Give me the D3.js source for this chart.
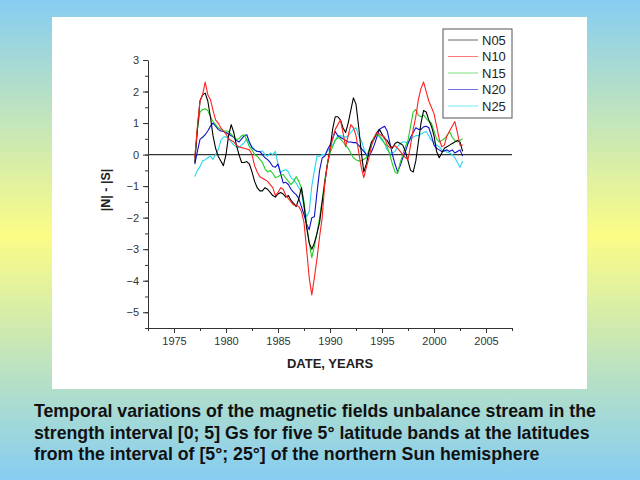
<!DOCTYPE html>
<html><head><meta charset="utf-8">
<script src="https://cdn.jsdelivr.net/npm/d3@7/dist/d3.min.js"></script>
<style>html,body{margin:0;padding:0;overflow:hidden}</style>
</head><body>
<script>
// ---- data (quarter-year samples, 1977.00 .. 2002.75) ----
const startYear = 1977, stepYear = 0.25;
const seriesNames = ["N05","N10","N15","N20","N25"];
const seriesColors = ["#000000","#ff2020","#22cc22","#1010c8","#20d8f0"];
const N05 = [
-0.25,0.8,1.7,1.9, 1.95,1.7,1.2,0.6, 0.2,-0.05,-0.2,-0.35, 0.0,0.6,0.95,0.7,
0.3,0.0,-0.25,-0.25, -0.22,-0.3,-0.55,-0.85, -1.05,-1.15,-1.15,-1.05, -1.1,-1.2,-1.3,-1.35,
-1.25,-1.2,-1.25,-1.35, -1.3,-1.45,-1.55,-1.65, -1.4,-1.05,-1.6,-2.3, -2.8,-3.0,-2.8,-2.5,
-2.15,-1.5,-0.9,-0.3, 0.15,0.8,1.2,1.2, 1.1,0.85,0.7,1.0, 1.4,1.8,1.6,0.9,
0.1,-0.55,-0.3,0.1, 0.4,0.5,0.7,0.8, 0.65,0.5,0.45,0.3, 0.2,0.35,0.4,0.35,
0.3,0.1,-0.2,-0.5, -0.55,-0.2,0.4,1.0, 1.4,1.35,1.1,0.9, 0.6,0.1,-0.1,0.05,
0.2,0.25,0.3,0.35, 0.4,0.45,0.4,0.1];
const N10 = [
-0.1,0.9,1.7,1.9, 2.3,1.9,1.75,1.4, 1.1,1.0,0.85,0.75, 0.65,0.5,0.45,0.4,
0.3,0.25,0.22,0.2, 0.18,0.15,0.0,-0.35, -0.55,-0.7,-0.75,-0.8, -0.85,-0.95,-1.05,-1.3,
-1.2,-1.05,-1.1,-1.3, -1.4,-1.5,-1.6,-1.6, -1.65,-1.8,-2.15,-3.0, -3.9,-4.45,-3.9,-3.3,
-2.6,-2.0,-0.9,-0.3, 0.15,0.5,0.8,0.95, 1.1,0.7,0.25,0.6, 0.95,0.85,0.6,0.1,
-0.4,-0.73,-0.4,-0.1, 0.3,0.55,0.7,0.65, 0.6,0.55,0.3,0.22, 0.25,0.28,0.2,0.1,
0.0,-0.1,-0.16,0.3, 0.8,1.2,1.75,2.1, 2.3,2.0,1.7,1.5, 1.3,0.9,0.5,0.25,
0.3,0.6,0.75,0.9, 1.05,0.7,0.3,0.3];
const N15 = [
-0.1,0.8,1.35,1.43, 1.45,1.4,1.2,1.05, 0.95,0.85,0.8,0.75, 0.75,0.73,0.65,0.55,
0.48,0.5,0.6,0.63, 0.45,0.25,0.15,0.0, -0.05,-0.15,-0.25,-0.45, -0.55,-0.5,-0.6,-0.73,
-0.7,-0.65,-0.63,-0.75, -0.85,-0.95,-0.85,-0.7, -0.85,-1.05,-1.5,-2.2, -2.8,-3.27,-2.9,-2.5,
-2.0,-1.45,-0.8,-0.3, 0.05,0.25,0.45,0.54, 0.5,0.4,0.3,0.2, 0.05,-0.1,-0.16,-0.2,
-0.2,-0.15,-0.1,0.15, 0.4,0.55,0.63,0.6, 0.5,0.35,0.25,0.0, -0.3,-0.55,-0.6,-0.25,
0.0,0.25,0.45,0.9, 1.35,1.43,1.25,1.2, 1.25,1.15,1.05,1.0, 0.75,0.5,0.4,0.45,
0.5,0.6,0.73,0.55, 0.45,0.4,0.45,0.5];
const N20 = [
-0.3,0.1,0.48,0.55, 0.63,0.75,0.9,1.0, 0.9,0.8,0.75,0.73, 0.7,0.65,0.6,0.54,
0.45,0.4,0.5,0.6, 0.63,0.4,0.22,0.15, 0.1,0.1,0.0,-0.1, -0.16,-0.25,-0.38,-0.4,
-0.3,-0.6,-0.9,-0.88, -0.95,-1.1,-1.2,-1.27, -1.4,-1.65,-1.9,-2.2, -2.38,-2.0,-1.97,-1.2,
-0.5,-0.1,-0.05,0.15, 0.3,0.5,0.73,0.6, 0.55,0.5,0.45,0.4, 0.4,0.38,0.38,0.3,
0.2,0.1,0.0,-0.05, 0.1,0.3,0.55,0.8, 0.85,0.9,0.75,0.38, 0.0,-0.3,-0.54,-0.35,
-0.1,0.1,0.35,0.55, 0.7,0.85,0.8,0.8, 0.88,0.9,0.85,0.6, 0.3,0.2,0.15,0.1,
0.12,0.15,0.1,0.15, 0.05,0.1,0.15,-0.05];
const N25 = [
-0.7,-0.5,-0.38,-0.2, -0.16,-0.1,-0.05,-0.15, 0.0,0.15,0.45,0.55, 0.57,0.5,0.4,0.3,
0.25,0.22,0.3,0.38, 0.5,0.35,0.25,0.15, 0.1,0.08,0.12,0.0, -0.05,0.05,0.0,0.1,
-0.3,-0.57,-0.5,-0.48, -0.55,-0.73,-0.8,-0.9, -1.05,-1.2,-1.68,-1.97, -1.8,-1.0,-0.5,-0.05,
-0.05,0.0,0.0,0.1, 0.2,0.3,0.45,0.6, 0.6,0.58,0.55,0.6, 0.7,0.8,0.85,0.6,
0.45,0.2,-0.05,0.1, 0.3,0.5,0.7,0.55, 0.45,0.35,0.15,0.05, 0.05,0.1,0.25,0.35,
0.4,0.4,0.35,0.5, 0.55,0.6,0.6,0.65, 0.7,0.73,0.6,0.45, 0.4,0.3,0.25,0.15,
0.1,0.08,0.05,0.0, -0.1,-0.25,-0.4,-0.2];
const seriesValues = [N05,N10,N15,N20,N25];
const xMajorTicks = [1975,1980,1985,1990,1995,2000,2005];
const yMajorTicks = [-5,-4,-3,-2,-1,0,1,2,3];
const xLabel = "DATE, YEARS";
const yLabel = "|N| - |S|";
const captionLines = [
 "Temporal variations of the magnetic fields unbalance stream in the",
 "strength interval [0; 5] Gs for five 5° latitude bands at the latitudes",
 "from the interval of [5°; 25°] of the northern Sun hemisphere"];

// ---- drawing ----
const W = 640, H = 480;
const svg = d3.select("body").append("svg").attr("width", W).attr("height", H);
const defs = svg.append("defs");
const grad = defs.append("linearGradient").attr("id","bg").attr("x1",0).attr("y1",0).attr("x2",0).attr("y2",1);
grad.append("stop").attr("offset","0%").attr("stop-color","#86cdf2");
grad.append("stop").attr("offset","49%").attr("stop-color","#fcfc86");
grad.append("stop").attr("offset","100%").attr("stop-color","#86cdf2");
svg.append("rect").attr("width",W).attr("height",H).attr("fill","url(#bg)");
svg.append("rect").attr("x",52).attr("y",17).attr("width",535).attr("height",372).attr("fill","#fff");

const x = d3.scaleLinear().domain([1972.5, 2007.5]).range([148, 512]);
const y = d3.scaleLinear().domain([-5.5, 3]).range([328, 60]);
const font = "Arial, 'Liberation Sans', sans-serif";
const axisColor = "#333";

// y axis
const gy = svg.append("g").attr("transform","translate(148,0)");
gy.call(d3.axisLeft(y).tickValues(d3.range(-5.5, 3.01, 0.5)).tickSize(3).tickFormat(""));
gy.call(g => g.select(".domain").remove());
const gyM = svg.append("g").attr("transform","translate(148,0)")
  .call(d3.axisLeft(y).tickValues(yMajorTicks).tickSize(5).tickSizeOuter(0).tickPadding(4).tickFormat(d3.format("d")));
gyM.select(".domain").attr("stroke", axisColor);
gyM.selectAll("text").attr("font-family", font).attr("font-size", 11).attr("fill","#333");

// x axis
const gx = svg.append("g").attr("transform","translate(0,328)");
gx.call(d3.axisBottom(x).tickValues(d3.range(1972.5, 2007.51, 2.5)).tickSize(3).tickFormat(""));
gx.call(g => g.select(".domain").remove());
const gxM = svg.append("g").attr("transform","translate(0,328)")
  .call(d3.axisBottom(x).tickValues(xMajorTicks).tickSize(5).tickSizeOuter(0).tickPadding(4).tickFormat(d3.format("d")));
svg.selectAll(".tick line").attr("stroke", axisColor);
gxM.select(".domain").attr("stroke", axisColor);
gxM.selectAll("text").attr("font-family", font).attr("font-size", 11).attr("fill","#333");

// zero line
svg.append("line").attr("x1", x(1972.5)).attr("x2", x(2007.5)).attr("y1", y(0)).attr("y2", y(0))
  .attr("stroke","#333").attr("stroke-width",1.2);

// series
const line = d3.line().x((d,i) => x(startYear + i*stepYear)).y(d => y(d));
const order = [4,3,2,0,1];
order.forEach(k => {
  svg.append("path").datum(seriesValues[k]).attr("d", line)
    .attr("fill","none").attr("stroke", seriesColors[k]).attr("stroke-width",1.1)
    .attr("stroke-linejoin","round");
});

// axis titles
svg.append("text").attr("x", 330).attr("y", 368).attr("text-anchor","middle")
  .attr("font-family", font).attr("font-size", 13).attr("font-weight","bold").attr("fill","#222").text(xLabel);
svg.append("text").attr("transform","translate(110,190) rotate(-90)").attr("text-anchor","middle")
  .attr("font-family", font).attr("font-size", 12.5).attr("font-weight","bold").attr("fill","#222").text(yLabel);

// legend
const lg = svg.append("g");
lg.append("rect").attr("x",443).attr("y",29).attr("width",69).attr("height",89)
  .attr("fill","#fff").attr("stroke","#555").attr("stroke-width",1);
seriesNames.forEach((n,i) => {
  const yy = 40 + i*16.5;
  lg.append("line").attr("x1",448).attr("x2",478).attr("y1",yy).attr("y2",yy)
    .attr("stroke", seriesColors[i]).attr("stroke-width",1).attr("stroke-opacity",0.6);
  lg.append("text").attr("x",482).attr("y",yy+4.5).attr("font-family",font).attr("font-size",13)
    .attr("fill","#222").text(n);
});

// caption (font size fitted so the first line spans the reference width)
const capTexts = captionLines.map((t,i) =>
  svg.append("text").attr("x",34).attr("y",417 + i*21.5).attr("font-family",font)
    .attr("font-size",16).attr("font-weight","bold").attr("fill","#111").text(t));
const w0 = capTexts[0].node().getComputedTextLength();
const fs = Math.min(18.5, 16 * 562 / w0);
capTexts.forEach(t => t.attr("font-size", fs));
</script>
</body></html>
